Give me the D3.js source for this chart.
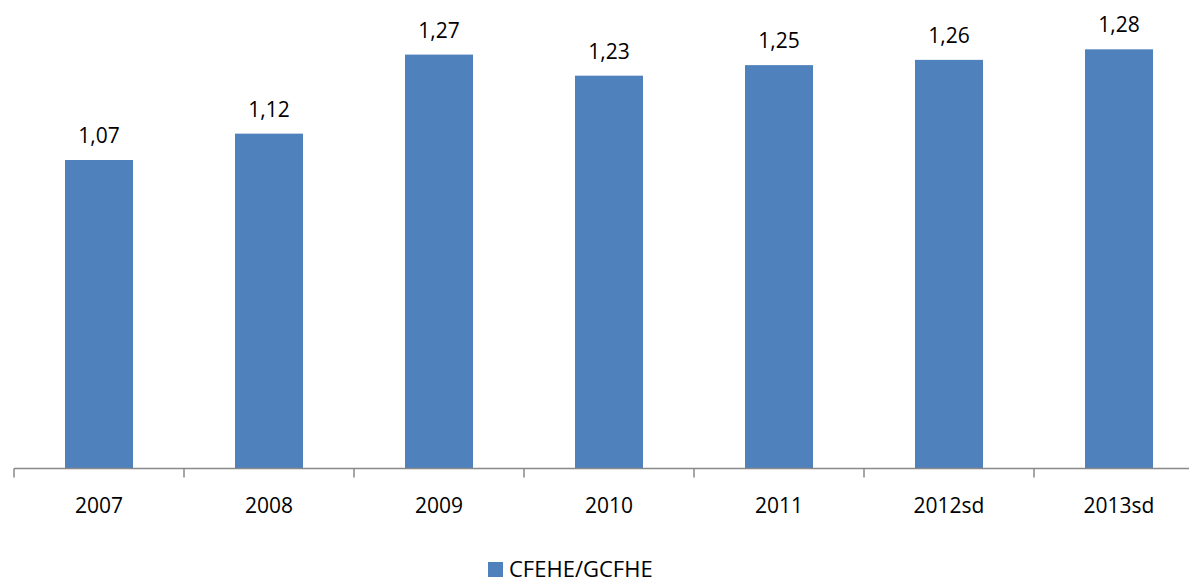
<!DOCTYPE html>
<html>
<head>
<meta charset="utf-8">
<script src="https://cdn.jsdelivr.net/npm/d3@7"></script>
<style>
  body { margin: 0; background: #fff; }
  text { font-family: "Open Sans", sans-serif; fill: #000; }
</style>
</head>
<body>
<script>
var years = ["2007", "2008", "2009", "2010", "2011", "2012sd", "2013sd"];
var ratios = [1.07, 1.12, 1.27, 1.23, 1.25, 1.26, 1.28];
var seriesName = "CFEHE/GCFHE";

var width = 1189, height = 582;
var baseY = 468.5;

var svg = d3.select("body").append("svg")
    .attr("width", width)
    .attr("height", height);

var data = years.map(function(d, i) { return {year: d, value: ratios[i]}; });

// the category band runs a bit past the right edge, like the original
var xScale = d3.scaleBand()
    .domain(years)
    .range([14, 14 + 170 * years.length])
    .padding(0);

var yMin = 0.4846, yMax = 1.3;
var yScale = d3.scaleLinear()
    .domain([yMin, yMax])
    .range([baseY, baseY - (yMax - yMin) * 527]);

var barW = xScale.bandwidth() * 0.4;

svg.selectAll(".bar")
    .data(data)
    .enter().append("rect")
    .attr("class", "bar")
    .attr("x", function(d) { return xScale(d.year) + (xScale.bandwidth() - barW) / 2; })
    .attr("y", function(d) { return yScale(d.value); })
    .attr("width", barW)
    .attr("height", function(d) { return baseY - yScale(d.value); })
    .style("fill", "#4f81bd");

// value labels
svg.selectAll(".val")
    .data(data)
    .enter().append("text")
    .attr("class", "val")
    .attr("text-anchor", "middle")
    .attr("x", function(d) { return xScale(d.year) + xScale.bandwidth() / 2; })
    .attr("y", function(d) { return yScale(d.value) - 17; })
    .style("font-size", "21px")
    .text(function(d) { return d3.format(".2f")(d.value).replace(".", ","); });

// x axis: line, ticks at category boundaries, labels centred
var axis = svg.append("g").attr("class", "x axis");
axis.append("line")
    .attr("x1", xScale.range()[0]).attr("x2", xScale.range()[1])
    .attr("y1", baseY).attr("y2", baseY)
    .style("stroke", "#898989").style("stroke-width", 1.5);

axis.selectAll(".tick-mark")
    .data(years.concat(["end"]))
    .enter().append("line")
    .attr("x1", function(d, i) { return xScale.range()[0] + i * xScale.step(); })
    .attr("x2", function(d, i) { return xScale.range()[0] + i * xScale.step(); })
    .attr("y1", baseY).attr("y2", baseY + 9)
    .style("stroke", "#898989").style("stroke-width", 1.5);

axis.selectAll(".lab")
    .data(years)
    .enter().append("text")
    .attr("class", "lab")
    .attr("text-anchor", "middle")
    .attr("x", function(d) { return xScale(d) + xScale.bandwidth() / 2; })
    .attr("y", 513)
    .style("font-size", "21px")
    .text(function(d) { return d; });

// legend
var legend = svg.append("g").attr("class", "legend");
legend.append("rect")
    .attr("x", 488).attr("y", 562)
    .attr("width", 15).attr("height", 15)
    .style("fill", "#4f81bd");
legend.append("text")
    .attr("x", 509).attr("y", 577)
    .style("font-size", "22px")
    .text(seriesName);
</script>
</body>
</html>
